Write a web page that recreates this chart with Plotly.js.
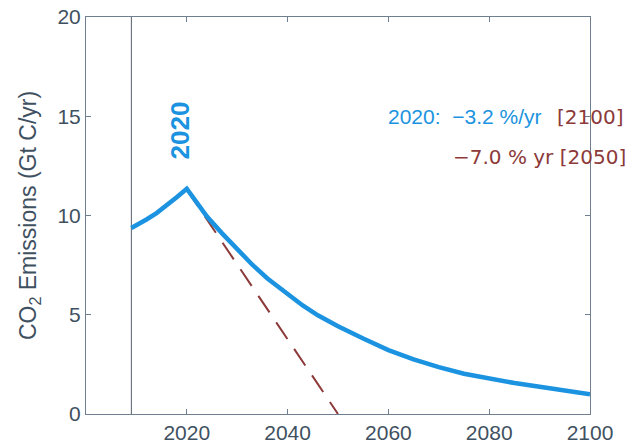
<!DOCTYPE html>
<html>
<head>
<meta charset="utf-8">
<script src="https://cdn.plot.ly/plotly-3.0.1.min.js"></script>
<style>html,body{margin:0;padding:0;background:#fff;}#chart{width:638px;height:444px;}</style>
</head>
<body>
<div id="chart"></div>
<script>
// Blue scenario: peak in 2020, then -3.2 %/yr
const years = [2009, 2010, 2012, 2014, 2016, 2018, 2020, 2022, 2024, 2027, 2030, 2033, 2036, 2040, 2043, 2046, 2050, 2055, 2060, 2065, 2070, 2075, 2080, 2085, 2090, 2095, 2100];
const emissions = [9.37, 9.5, 9.8, 10.12, 10.5, 10.92, 11.35, 10.6, 9.95, 9.1, 8.28, 7.52, 6.83, 6.02, 5.47, 4.97, 4.42, 3.8, 3.22, 2.75, 2.36, 2.03, 1.77, 1.56, 1.37, 1.18, 1.0];
// Hand-drawn dashed scenario: -7.0 %/yr, reaching zero in 2050
const dashYears = [2020, 2050];
const dashValues = [11.3, 0];
// Vertical marker line
const markerYear = 2009;
const markerRange = [0, 20];
const xTicks = [2020, 2040, 2060, 2080, 2100];
const yTicks = [0, 5, 10, 15, 20];

const axisColor = '#6f7f8f';
const textColor = '#3f5161';
const blue = '#1b93e0';
const brown = '#8c3a3a';

const traces = [
  {x: [markerYear, markerYear], y: markerRange, mode: 'lines', line: {color: '#55606b', width: 1}, hoverinfo: 'skip'},
  {x: dashYears, y: dashValues, mode: 'lines', line: {color: brown, width: 2, dash: '20px,12px'}},
  {x: years, y: emissions, mode: 'lines', line: {color: blue, width: 4.5}}
];

const layout = {
  width: 638, height: 444,
  margin: {l: 86, r: 48, t: 17, b: 30},
  paper_bgcolor: '#ffffff', plot_bgcolor: '#ffffff',
  showlegend: false,
  font: {family: 'Liberation Sans, Arial, sans-serif', color: textColor, size: 21},
  xaxis: {
    range: [2000, 2100], tickvals: xTicks, ticktext: xTicks.map(String),
    showgrid: false, zeroline: false, showline: true, mirror: 'ticks',
    linecolor: axisColor, linewidth: 1, ticks: 'inside', ticklen: 5, tickcolor: axisColor,
    tickfont: {size: 21, color: textColor}
  },
  yaxis: {
    range: [0, 20], tickvals: yTicks, ticktext: yTicks.map(String),
    showgrid: false, zeroline: false, showline: true, mirror: 'ticks',
    linecolor: axisColor, linewidth: 1, ticks: 'inside', ticklen: 5, tickcolor: axisColor,
    tickfont: {size: 21, color: textColor},
    title: {text: 'CO<sub>2</sub> Emissions (Gt C/yr)', font: {size: 23, color: textColor}, standoff: 14}
  },
  annotations: [
    {x: 2018.6, y: 14.27, xref: 'x', yref: 'y', text: '<b>2020</b>', textangle: -90, showarrow: false,
     font: {size: 26, color: blue, family: 'Liberation Sans, Arial, sans-serif'}},
    {x: 2075.2, y: 14.98, xref: 'x', yref: 'y', text: '2020:  −3.2 %/yr', showarrow: false, xanchor: 'center',
     font: {size: 21, color: blue}},
    {x: 2093, y: 14.95, xref: 'x', yref: 'y', text: '[2100]', showarrow: false, xanchor: 'left',
     font: {size: 20, color: brown, family: 'DejaVu Sans, sans-serif'}},
    {x: 2072.5, y: 12.95, xref: 'x', yref: 'y', text: '−7.0 % yr [2050]', showarrow: false, xanchor: 'left',
     font: {size: 20, color: brown, family: 'DejaVu Sans, sans-serif'}}
  ]
};

Plotly.newPlot('chart', traces, layout, {displayModeBar: false, staticPlot: true});
</script>
</body>
</html>
